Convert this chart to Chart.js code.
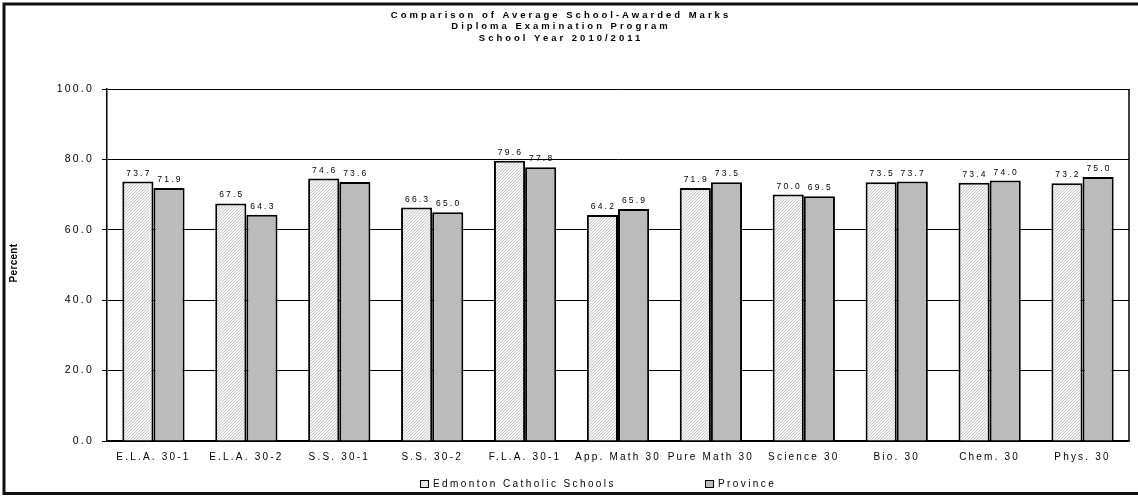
<!DOCTYPE html>
<html>
<head>
<meta charset="utf-8">
<script src="https://cdn.jsdelivr.net/npm/chart.js@4"></script>
<style>
  body { margin: 0; background: #fff; }
</style>
</head>
<body>
<canvas id="marks" width="1138" height="496"></canvas>
<script>
const subjects = ['E.L.A. 30-1', 'E.L.A. 30-2', 'S.S. 30-1', 'S.S. 30-2', 'F.L.A. 30-1', 'App. Math 30',
  'Pure Math 30', 'Science 30', 'Bio. 30', 'Chem. 30', 'Phys. 30'];
const edmontonMarks = [73.7, 67.5, 74.6, 66.3, 79.6, 64.2, 71.9, 70.0, 73.5, 73.4, 73.2];
const provinceMarks = [71.9, 64.3, 73.6, 65.0, 77.8, 65.9, 73.5, 69.5, 73.7, 74.0, 75.0];
const seriesNames = ['Edmonton Catholic Schools', 'Province'];
const titleLines = ['Comparison of Average School-Awarded Marks', 'Diploma Examination Program', 'School Year 2010/2011'];

const FONT = '"Liberation Sans", Arial, sans-serif';

function makeHatch() {
  const c = document.createElement('canvas');
  c.width = 3; c.height = 3;
  const g = c.getContext('2d');
  g.fillStyle = '#f6f6f6';
  g.fillRect(0, 0, 3, 3);
  g.fillStyle = '#c6c6c6';
  for (let i = 0; i < 3; i++) g.fillRect(i, 2 - i, 1, 1);
  return g.createPattern(c, 'repeat');
}

function makeDots() {
  const c = document.createElement('canvas');
  c.width = 2; c.height = 2;
  const g = c.getContext('2d');
  g.fillStyle = '#c2c2c2';
  g.fillRect(0, 0, 2, 2);
  g.fillStyle = '#b4b4b4';
  g.fillRect(0, 0, 1, 1);
  g.fillRect(1, 1, 1, 1);
  return g.createPattern(c, 'repeat');
}

const hatch = makeHatch();
const dots = makeDots();
const fills = [hatch, dots];

const decorations = {
  id: 'decorations',
  beforeDraw(chart) {
    chart.ctx.letterSpacing = '2.2px';
  },
  afterDatasetsDraw(chart) {
    const ctx = chart.ctx;
    ctx.save();
    ctx.letterSpacing = '2.2px';
    ctx.font = '8.5px ' + FONT;
    ctx.fillStyle = '#000';
    ctx.textAlign = 'center';
    ctx.textBaseline = 'bottom';
    chart.data.datasets.forEach((ds, di) => {
      chart.getDatasetMeta(di).data.forEach((bar, i) => {
        ctx.fillText(ds.data[i].toFixed(1), bar.x + 1, bar.y - 4);
      });
    });
    ctx.restore();
  },
  afterDraw(chart) {
    const ctx = chart.ctx;
    const area = chart.chartArea;
    ctx.save();
    // right edge of plot
    ctx.strokeStyle = '#000';
    ctx.lineWidth = 1.5;
    ctx.beginPath();
    ctx.moveTo(area.right, area.top);
    ctx.lineTo(area.right, area.bottom);
    ctx.stroke();

    // title
    ctx.fillStyle = '#000';
    ctx.textAlign = 'center';
    ctx.textBaseline = 'middle';
    ctx.font = 'bold 9.5px ' + FONT;
    ctx.letterSpacing = '3px';
    titleLines.forEach((line, i) => ctx.fillText(line, 561, 15 + i * 11.8));

    // axis title
    ctx.save();
    ctx.translate(14, 263);
    ctx.rotate(-Math.PI / 2);
    ctx.letterSpacing = '0.3px';
    ctx.font = 'bold 10px ' + FONT;
    ctx.fillText('Percent', 0, 0);
    ctx.restore();

    // legend
    const legendX = [420, 705];
    ctx.textAlign = 'left';
    ctx.font = '10px ' + FONT;
    ctx.letterSpacing = '2.4px';
    seriesNames.forEach((name, i) => {
      ctx.fillStyle = fills[i];
      ctx.fillRect(legendX[i], 480, 9, 8);
      ctx.lineWidth = 1;
      ctx.strokeStyle = '#000';
      ctx.strokeRect(legendX[i] + 0.5, 480.5, 8, 7);
      ctx.fillStyle = '#000';
      ctx.fillText(name, legendX[i] + 13, 484.5);
    });

    // outer frame
    ctx.strokeStyle = '#111';
    ctx.lineWidth = 3;
    ctx.beginPath();
    ctx.moveTo(1138, 4);
    ctx.lineTo(4, 4);
    ctx.lineTo(4, 493.5);
    ctx.lineTo(1138, 493.5);
    ctx.stroke();
    ctx.restore();
  }
};

new Chart(document.getElementById('marks'), {
  type: 'bar',
  data: {
    labels: subjects,
    datasets: [
      {
        label: seriesNames[0],
        data: edmontonMarks,
        backgroundColor: hatch,
        borderColor: '#000',
        borderWidth: 2,
      },
      {
        label: seriesNames[1],
        data: provinceMarks,
        backgroundColor: dots,
        borderColor: '#000',
        borderWidth: 2,
      },
    ],
  },
  options: {
    responsive: false,
    animation: false,
    categoryPercentage: 0.67,
    barPercentage: 1,
    layout: { padding: { top: 89, right: 9, bottom: 0, left: 0 } },
    plugins: {
      legend: { display: false },
      title: { display: false },
      tooltip: { enabled: false },
    },
    scales: {
      x: {
        grid: { display: false, drawTicks: false },
        border: { display: true, color: '#000', width: 1.5 },
        ticks: {
          color: '#000',
          font: { family: FONT, size: 10 },
          padding: 10,
          autoSkip: false,
          maxRotation: 0,
        },
        afterFit(scale) { scale.height = 55; },
      },
      y: {
        min: 0,
        max: 100,
        grid: { color: '#000', lineWidth: 1, tickLength: 5 },
        border: { display: true, color: '#000', width: 1.5 },
        ticks: {
          stepSize: 20,
          color: '#000',
          font: { family: FONT, size: 10.5 },
          padding: 8,
          callback: v => v.toFixed(1),
        },
        afterFit(scale) { scale.width = 107; },
      },
    },
  },
  plugins: [decorations],
});
</script>
</body>
</html>
